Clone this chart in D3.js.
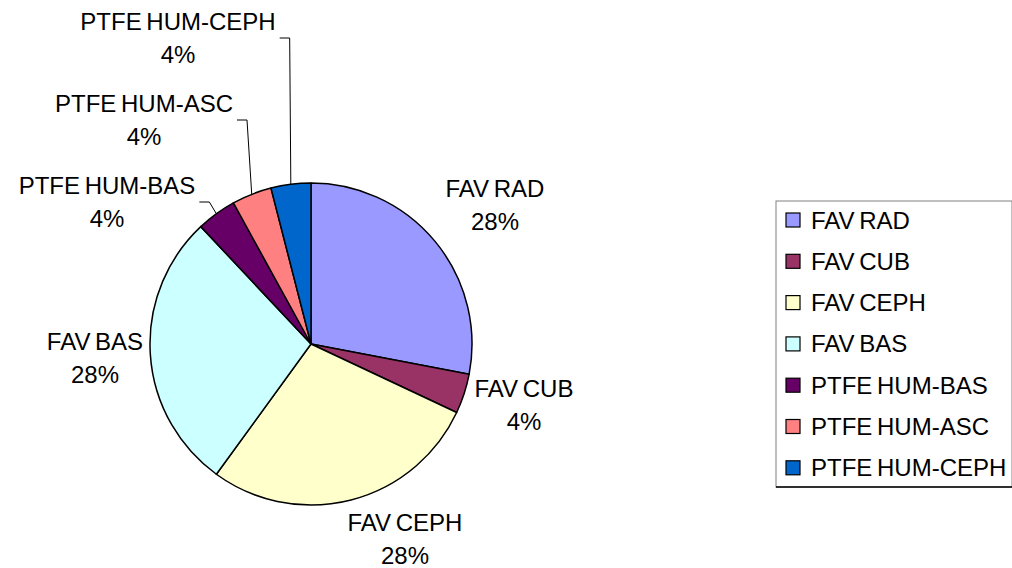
<!DOCTYPE html>
<html lang="en">
<head>
  <meta charset="UTF-8">
  <title>Pie chart</title>
  <script src="https://d3js.org/d3.v7.min.js"></script>
  <style>
    body { margin: 0; background: #fff; }
    text { font-family: "Liberation Sans", Arial, sans-serif; font-size: 24px; fill: #000; word-spacing: -2px; }
  </style>
</head>
<body>
  <svg id="chart" width="1012" height="568"></svg>

  <script>
    // data
    const categories = ["FAV RAD", "FAV CUB", "FAV CEPH", "FAV BAS", "PTFE HUM-BAS", "PTFE HUM-ASC", "PTFE HUM-CEPH"];
    const values = [28, 4, 28, 28, 4, 4, 4];
    const colors = ["#9999FF", "#993366", "#FFFFCC", "#CCFFFF", "#660066", "#FF8080", "#0066CC"];
    // where each data label sits (centre of the two lines); the small ones were dragged out with leader lines
    const labelPos = [[495, 205], [524, 405], [405, 539], [95, 358], [107, 202], [144, 120], [178, 38]];
    const hasLeader = [false, false, false, false, true, true, true];

    const svg = d3.select("#chart");
    const cx = 311, cy = 344, radius = 161;

    const pie = d3.pie().sort(null).value(d => d)(values);
    const arc = d3.arc().innerRadius(0).outerRadius(radius);
    const total = d3.sum(values);
    const fmt = d3.format(".0%");

    const g = svg.append("g").attr("transform", `translate(${cx},${cy})`);

    g.selectAll("path")
      .data(pie)
      .enter()
      .append("path")
      .attr("d", arc)
      .attr("fill", (d, i) => colors[i])
      .attr("stroke", "#000")
      .attr("stroke-width", 1.5)
      .attr("stroke-linejoin", "round");

    // leader lines: short horizontal tick from the label, then to the slice edge
    pie.forEach((d, i) => {
      if (!hasLeader[i]) return;
      const mid = (d.startAngle + d.endAngle) / 2;
      const ex = cx + radius * Math.sin(mid);
      const ey = cy - radius * Math.cos(mid);
      const w = svg.append("text").text(categories[i]);
      const tw = w.node().getComputedTextLength();
      w.remove();
      const sx = labelPos[i][0] + tw / 2 + 4;
      const sy = labelPos[i][1];
      svg.append("polyline")
        .attr("points", `${sx},${sy} ${sx + 10},${sy} ${ex},${ey}`)
        .attr("fill", "none")
        .attr("stroke", "#000")
        .attr("stroke-width", 1);
    });

    // data labels
    pie.forEach((d, i) => {
      const t = svg.append("text")
        .attr("text-anchor", "middle")
        .attr("x", labelPos[i][0])
        .attr("y", labelPos[i][1] - 16.5 + 8.5);
      t.append("tspan").attr("x", labelPos[i][0]).text(categories[i]);
      t.append("tspan").attr("x", labelPos[i][0]).attr("dy", 33).text(fmt(values[i] / total));
    });

    // legend
    const legX = 776, legY = 201, legW = 236, legH = 286;
    svg.append("rect")
      .attr("x", legX).attr("y", legY)
      .attr("width", legW).attr("height", legH)
      .attr("fill", "#fff")
      .attr("stroke", "#808080")
      .attr("stroke-width", 1);
    svg.append("line")
      .attr("x1", legX).attr("x2", legX + legW)
      .attr("y1", legY + legH).attr("y2", legY + legH)
      .attr("stroke", "#000").attr("stroke-width", 1.5);

    const legend = svg.selectAll(".legend-item")
      .data(categories)
      .enter()
      .append("g")
      .attr("class", "legend-item")
      .attr("transform", (d, i) => `translate(${legX + 10},${220 + i * 41.3})`);

    legend.append("rect")
      .attr("x", 0).attr("y", -7)
      .attr("width", 14).attr("height", 14)
      .attr("fill", (d, i) => colors[i])
      .attr("stroke", "#000")
      .attr("stroke-width", 1.2);

    legend.append("text")
      .attr("x", 25)
      .attr("y", 8.5)
      .text(d => d);
  </script>
</body>
</html>
